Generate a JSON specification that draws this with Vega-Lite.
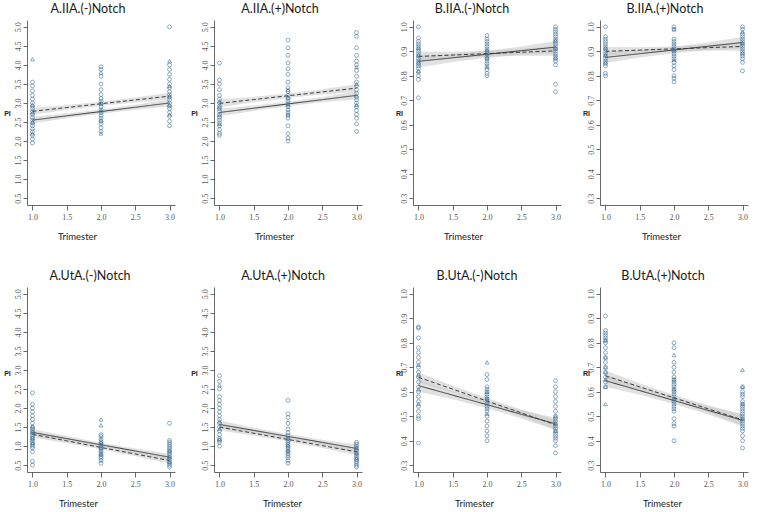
{"$schema":"https://vega.github.io/schema/vega-lite/v6.json",
"padding":{"left":3,"top":2,"right":2,"bottom":0},
"spacing":28,
"config":{"view":{"stroke":null},
"axis":{"domain":true,"domainColor":"#444","domainWidth":0.8,"grid":false,"tickColor":"#444","tickWidth":0.8,"labelColor":"#555","labelFont":"Liberation Sans Narrow","labelFontSize":8,"labelFlush":false,"labelOverlap":false},
"axisX":{"tickSize":5,"labelPadding":3,"titleFont":"Lato","titleFontSize":9.5,"titleColor":"#222","titleFontWeight":"normal","titleAlign":"center","titleBaseline":"middle"},
"axisY":{"tickSize":4,"labelAngle":-90,"labelPadding":1,"titleAngle":0,"titleFont":"Liberation Sans","titleFontWeight":"bold","titleFontSize":7,"titleColor":"#222","titleAlign":"center","titleBaseline":"middle"},
"title":{"font":"Lato","fontSize":12.5,"fontWeight":"normal","color":"#1a1a1a","baseline":"alphabetic","offset":5,"anchor":"middle"}},
"datasets":{
"F":[
{"p":"A1","g":"s","t":1,"v":2.55,"lo":2.46,"hi":2.64},{"p":"A1","g":"s","t":1.5,"v":2.6625,"lo":2.597,"hi":2.728},{"p":"A1","g":"s","t":2,"v":2.775,"lo":2.72,"hi":2.83},{"p":"A1","g":"s","t":2.5,"v":2.8875,"lo":2.822,"hi":2.953},{"p":"A1","g":"s","t":3,"v":3.0,"lo":2.91,"hi":3.09},
{"p":"A1","g":"d","t":1,"v":2.78,"lo":2.69,"hi":2.87},{"p":"A1","g":"d","t":1.5,"v":2.88,"lo":2.815,"hi":2.945},{"p":"A1","g":"d","t":2,"v":2.98,"lo":2.925,"hi":3.035},{"p":"A1","g":"d","t":2.5,"v":3.08,"lo":3.015,"hi":3.145},{"p":"A1","g":"d","t":3,"v":3.18,"lo":3.09,"hi":3.27},
{"p":"A2","g":"s","t":1,"v":2.75,"lo":2.65,"hi":2.85},{"p":"A2","g":"s","t":1.5,"v":2.8625,"lo":2.7925,"hi":2.9325},{"p":"A2","g":"s","t":2,"v":2.975,"lo":2.915,"hi":3.035},{"p":"A2","g":"s","t":2.5,"v":3.0875,"lo":3.0175,"hi":3.1575},{"p":"A2","g":"s","t":3,"v":3.2,"lo":3.1,"hi":3.3},
{"p":"A2","g":"d","t":1,"v":2.99,"lo":2.89,"hi":3.09},{"p":"A2","g":"d","t":1.5,"v":3.09,"lo":3.02,"hi":3.16},{"p":"A2","g":"d","t":2,"v":3.19,"lo":3.13,"hi":3.25},{"p":"A2","g":"d","t":2.5,"v":3.29,"lo":3.22,"hi":3.36},{"p":"A2","g":"d","t":3,"v":3.39,"lo":3.29,"hi":3.49},
{"p":"B1","g":"s","t":1,"v":0.859,"lo":0.834,"hi":0.884},{"p":"B1","g":"s","t":1.5,"v":0.8735,"lo":0.8565,"hi":0.8905},{"p":"B1","g":"s","t":2,"v":0.888,"lo":0.874,"hi":0.902},{"p":"B1","g":"s","t":2.5,"v":0.9025,"lo":0.8855,"hi":0.9195},{"p":"B1","g":"s","t":3,"v":0.917,"lo":0.892,"hi":0.942},
{"p":"B1","g":"d","t":1,"v":0.879,"lo":0.859,"hi":0.899},{"p":"B1","g":"d","t":1.5,"v":0.88475,"lo":0.87075,"hi":0.89875},{"p":"B1","g":"d","t":2,"v":0.8905,"lo":0.8785,"hi":0.9025},{"p":"B1","g":"d","t":2.5,"v":0.89625,"lo":0.88225,"hi":0.91025},{"p":"B1","g":"d","t":3,"v":0.902,"lo":0.882,"hi":0.922},
{"p":"B2","g":"s","t":1,"v":0.875,"lo":0.852,"hi":0.898},{"p":"B2","g":"s","t":1.5,"v":0.89025,"lo":0.87425,"hi":0.90625},{"p":"B2","g":"s","t":2,"v":0.9055,"lo":0.8925,"hi":0.9185},{"p":"B2","g":"s","t":2.5,"v":0.92075,"lo":0.90475,"hi":0.93675},{"p":"B2","g":"s","t":3,"v":0.936,"lo":0.913,"hi":0.959},
{"p":"B2","g":"d","t":1,"v":0.9,"lo":0.882,"hi":0.918},{"p":"B2","g":"d","t":1.5,"v":0.905,"lo":0.893,"hi":0.917},{"p":"B2","g":"d","t":2,"v":0.91,"lo":0.9,"hi":0.92},{"p":"B2","g":"d","t":2.5,"v":0.915,"lo":0.903,"hi":0.927},{"p":"B2","g":"d","t":3,"v":0.92,"lo":0.902,"hi":0.938},
{"p":"C1","g":"s","t":1,"v":1.36,"lo":1.27,"hi":1.45},{"p":"C1","g":"s","t":1.5,"v":1.1975,"lo":1.1325,"hi":1.2625},{"p":"C1","g":"s","t":2,"v":1.035,"lo":0.98,"hi":1.09},{"p":"C1","g":"s","t":2.5,"v":0.8725,"lo":0.8075,"hi":0.9375},{"p":"C1","g":"s","t":3,"v":0.71,"lo":0.62,"hi":0.8},
{"p":"C1","g":"d","t":1,"v":1.31,"lo":1.23,"hi":1.39},{"p":"C1","g":"d","t":1.5,"v":1.1375,"lo":1.0775,"hi":1.1975},{"p":"C1","g":"d","t":2,"v":0.965,"lo":0.915,"hi":1.015},{"p":"C1","g":"d","t":2.5,"v":0.7925,"lo":0.7325,"hi":0.8525},{"p":"C1","g":"d","t":3,"v":0.62,"lo":0.54,"hi":0.7},
{"p":"C2","g":"s","t":1,"v":1.57,"lo":1.47,"hi":1.67},{"p":"C2","g":"s","t":1.5,"v":1.4125,"lo":1.3425,"hi":1.4825},{"p":"C2","g":"s","t":2,"v":1.255,"lo":1.195,"hi":1.315},{"p":"C2","g":"s","t":2.5,"v":1.0975,"lo":1.0275,"hi":1.1675},{"p":"C2","g":"s","t":3,"v":0.94,"lo":0.84,"hi":1.04},
{"p":"C2","g":"d","t":1,"v":1.5,"lo":1.41,"hi":1.59},{"p":"C2","g":"d","t":1.5,"v":1.3375,"lo":1.2725,"hi":1.4025},{"p":"C2","g":"d","t":2,"v":1.175,"lo":1.12,"hi":1.23},{"p":"C2","g":"d","t":2.5,"v":1.0125,"lo":0.9475,"hi":1.0775},{"p":"C2","g":"d","t":3,"v":0.85,"lo":0.76,"hi":0.94},
{"p":"D1","g":"s","t":1,"v":0.625,"lo":0.6,"hi":0.65},{"p":"D1","g":"s","t":1.5,"v":0.586,"lo":0.569,"hi":0.603},{"p":"D1","g":"s","t":2,"v":0.547,"lo":0.533,"hi":0.561},{"p":"D1","g":"s","t":2.5,"v":0.508,"lo":0.491,"hi":0.525},{"p":"D1","g":"s","t":3,"v":0.469,"lo":0.444,"hi":0.494},
{"p":"D1","g":"d","t":1,"v":0.659,"lo":0.639,"hi":0.679},{"p":"D1","g":"d","t":1.5,"v":0.6105,"lo":0.5965,"hi":0.6245},{"p":"D1","g":"d","t":2,"v":0.562,"lo":0.55,"hi":0.574},{"p":"D1","g":"d","t":2.5,"v":0.5135,"lo":0.4995,"hi":0.5275},{"p":"D1","g":"d","t":3,"v":0.465,"lo":0.445,"hi":0.485},
{"p":"D2","g":"s","t":1,"v":0.645,"lo":0.62,"hi":0.67},{"p":"D2","g":"s","t":1.5,"v":0.6045,"lo":0.5875,"hi":0.6215},{"p":"D2","g":"s","t":2,"v":0.564,"lo":0.55,"hi":0.578},{"p":"D2","g":"s","t":2.5,"v":0.5235,"lo":0.5065,"hi":0.5405},{"p":"D2","g":"s","t":3,"v":0.483,"lo":0.458,"hi":0.508},
{"p":"D2","g":"d","t":1,"v":0.665,"lo":0.643,"hi":0.687},{"p":"D2","g":"d","t":1.5,"v":0.62,"lo":0.605,"hi":0.635},{"p":"D2","g":"d","t":2,"v":0.575,"lo":0.563,"hi":0.587},{"p":"D2","g":"d","t":2.5,"v":0.53,"lo":0.515,"hi":0.545},{"p":"D2","g":"d","t":3,"v":0.485,"lo":0.463,"hi":0.507}
],
"A1":[
{"t":1,"g":"c","v":1.95},{"t":1,"g":"c","v":2.05},{"t":1,"g":"c","v":2.15},{"t":1,"g":"c","v":2.25},{"t":1,"g":"c","v":2.32},{"t":1,"g":"c","v":2.4},{"t":1,"g":"c","v":2.47},{"t":1,"g":"c","v":2.55},{"t":1,"g":"c","v":2.62},{"t":1,"g":"c","v":2.7},{"t":1,"g":"c","v":2.78},{"t":1,"g":"c","v":2.85},{"t":1,"g":"c","v":2.92},{"t":1,"g":"c","v":3.0},{"t":1,"g":"c","v":3.1},{"t":1,"g":"c","v":3.2},{"t":1,"g":"c","v":3.32},{"t":1,"g":"c","v":3.45},{"t":1,"g":"c","v":3.55},
{"t":1,"g":"t","v":2.2},{"t":1,"g":"t","v":2.5},{"t":1,"g":"t","v":2.75},{"t":1,"g":"t","v":2.95},{"t":1,"g":"t","v":4.15},
{"t":2,"g":"c","v":2.25},{"t":2,"g":"c","v":2.35},{"t":2,"g":"c","v":2.45},{"t":2,"g":"c","v":2.52},{"t":2,"g":"c","v":2.6},{"t":2,"g":"c","v":2.67},{"t":2,"g":"c","v":2.75},{"t":2,"g":"c","v":2.82},{"t":2,"g":"c","v":2.9},{"t":2,"g":"c","v":2.97},{"t":2,"g":"c","v":3.05},{"t":2,"g":"c","v":3.12},{"t":2,"g":"c","v":3.22},{"t":2,"g":"c","v":3.35},{"t":2,"g":"c","v":3.5},{"t":2,"g":"c","v":3.7},{"t":2,"g":"c","v":3.88},{"t":2,"g":"c","v":3.95},
{"t":2,"g":"t","v":2.2},{"t":2,"g":"t","v":2.55},{"t":2,"g":"t","v":2.8},{"t":2,"g":"t","v":3.0},{"t":2,"g":"t","v":3.8},
{"t":3,"g":"c","v":2.4},{"t":3,"g":"c","v":2.52},{"t":3,"g":"c","v":2.65},{"t":3,"g":"c","v":2.75},{"t":3,"g":"c","v":2.85},{"t":3,"g":"c","v":2.92},{"t":3,"g":"c","v":3.0},{"t":3,"g":"c","v":3.08},{"t":3,"g":"c","v":3.15},{"t":3,"g":"c","v":3.22},{"t":3,"g":"c","v":3.3},{"t":3,"g":"c","v":3.4},{"t":3,"g":"c","v":3.5},{"t":3,"g":"c","v":3.62},{"t":3,"g":"c","v":3.75},{"t":3,"g":"c","v":3.88},{"t":3,"g":"c","v":4.0},{"t":3,"g":"c","v":5.0},
{"t":3,"g":"t","v":2.7},{"t":3,"g":"t","v":2.95},{"t":3,"g":"t","v":3.18},{"t":3,"g":"t","v":3.45},{"t":3,"g":"t","v":4.1}
],
"A2":[
{"t":1,"g":"c","v":2.15},{"t":1,"g":"c","v":2.2},{"t":1,"g":"c","v":2.3},{"t":1,"g":"c","v":2.4},{"t":1,"g":"c","v":2.48},{"t":1,"g":"c","v":2.55},{"t":1,"g":"c","v":2.62},{"t":1,"g":"c","v":2.7},{"t":1,"g":"c","v":2.78},{"t":1,"g":"c","v":2.85},{"t":1,"g":"c","v":2.92},{"t":1,"g":"c","v":3.0},{"t":1,"g":"c","v":3.1},{"t":1,"g":"c","v":3.2},{"t":1,"g":"c","v":3.35},{"t":1,"g":"c","v":3.5},{"t":1,"g":"c","v":3.6},{"t":1,"g":"c","v":4.05},
{"t":1,"g":"t","v":2.45},{"t":1,"g":"t","v":2.68},{"t":1,"g":"t","v":2.9},{"t":1,"g":"t","v":3.05},
{"t":2,"g":"c","v":2.0},{"t":2,"g":"c","v":2.08},{"t":2,"g":"c","v":2.2},{"t":2,"g":"c","v":2.4},{"t":2,"g":"c","v":2.6},{"t":2,"g":"c","v":2.68},{"t":2,"g":"c","v":2.75},{"t":2,"g":"c","v":2.82},{"t":2,"g":"c","v":2.9},{"t":2,"g":"c","v":2.98},{"t":2,"g":"c","v":3.05},{"t":2,"g":"c","v":3.12},{"t":2,"g":"c","v":3.2},{"t":2,"g":"c","v":3.3},{"t":2,"g":"c","v":3.4},{"t":2,"g":"c","v":3.55},{"t":2,"g":"c","v":3.75},{"t":2,"g":"c","v":3.9},{"t":2,"g":"c","v":4.05},{"t":2,"g":"c","v":4.25},{"t":2,"g":"c","v":4.45},{"t":2,"g":"c","v":4.65},
{"t":2,"g":"t","v":2.7},{"t":2,"g":"t","v":2.95},{"t":2,"g":"t","v":3.15},{"t":2,"g":"t","v":3.35},
{"t":3,"g":"c","v":2.25},{"t":3,"g":"c","v":2.45},{"t":3,"g":"c","v":2.6},{"t":3,"g":"c","v":2.7},{"t":3,"g":"c","v":2.8},{"t":3,"g":"c","v":2.9},{"t":3,"g":"c","v":3.0},{"t":3,"g":"c","v":3.08},{"t":3,"g":"c","v":3.15},{"t":3,"g":"c","v":3.25},{"t":3,"g":"c","v":3.35},{"t":3,"g":"c","v":3.45},{"t":3,"g":"c","v":3.55},{"t":3,"g":"c","v":3.7},{"t":3,"g":"c","v":3.85},{"t":3,"g":"c","v":4.0},{"t":3,"g":"c","v":4.1},{"t":3,"g":"c","v":4.25},{"t":3,"g":"c","v":4.45},{"t":3,"g":"c","v":4.75},{"t":3,"g":"c","v":4.85},
{"t":3,"g":"t","v":2.95},{"t":3,"g":"t","v":3.2},{"t":3,"g":"t","v":3.5},{"t":3,"g":"t","v":3.95}
],
"B1":[
{"t":1,"g":"c","v":0.71},{"t":1,"g":"c","v":0.785},{"t":1,"g":"c","v":0.8},{"t":1,"g":"c","v":0.815},{"t":1,"g":"c","v":0.83},{"t":1,"g":"c","v":0.84},{"t":1,"g":"c","v":0.85},{"t":1,"g":"c","v":0.86},{"t":1,"g":"c","v":0.87},{"t":1,"g":"c","v":0.88},{"t":1,"g":"c","v":0.89},{"t":1,"g":"c","v":0.9},{"t":1,"g":"c","v":0.91},{"t":1,"g":"c","v":0.92},{"t":1,"g":"c","v":0.93},{"t":1,"g":"c","v":0.94},{"t":1,"g":"c","v":0.955},{"t":1,"g":"c","v":1.0},
{"t":1,"g":"t","v":0.82},{"t":1,"g":"t","v":0.855},{"t":1,"g":"t","v":0.885},{"t":1,"g":"t","v":0.915},
{"t":2,"g":"c","v":0.8},{"t":2,"g":"c","v":0.81},{"t":2,"g":"c","v":0.825},{"t":2,"g":"c","v":0.84},{"t":2,"g":"c","v":0.85},{"t":2,"g":"c","v":0.86},{"t":2,"g":"c","v":0.87},{"t":2,"g":"c","v":0.88},{"t":2,"g":"c","v":0.89},{"t":2,"g":"c","v":0.9},{"t":2,"g":"c","v":0.91},{"t":2,"g":"c","v":0.92},{"t":2,"g":"c","v":0.93},{"t":2,"g":"c","v":0.94},{"t":2,"g":"c","v":0.95},{"t":2,"g":"c","v":0.965},
{"t":2,"g":"t","v":0.835},{"t":2,"g":"t","v":0.875},{"t":2,"g":"t","v":0.905},
{"t":3,"g":"c","v":0.735},{"t":3,"g":"c","v":0.765},{"t":3,"g":"c","v":0.845},{"t":3,"g":"c","v":0.86},{"t":3,"g":"c","v":0.87},{"t":3,"g":"c","v":0.88},{"t":3,"g":"c","v":0.89},{"t":3,"g":"c","v":0.9},{"t":3,"g":"c","v":0.91},{"t":3,"g":"c","v":0.92},{"t":3,"g":"c","v":0.93},{"t":3,"g":"c","v":0.94},{"t":3,"g":"c","v":0.95},{"t":3,"g":"c","v":0.96},{"t":3,"g":"c","v":0.97},{"t":3,"g":"c","v":0.98},{"t":3,"g":"c","v":0.99},{"t":3,"g":"c","v":1.0},
{"t":3,"g":"t","v":0.875},{"t":3,"g":"t","v":0.915},{"t":3,"g":"t","v":0.945}
],
"B2":[
{"t":1,"g":"c","v":0.8},{"t":1,"g":"c","v":0.81},{"t":1,"g":"c","v":0.84},{"t":1,"g":"c","v":0.85},{"t":1,"g":"c","v":0.86},{"t":1,"g":"c","v":0.87},{"t":1,"g":"c","v":0.88},{"t":1,"g":"c","v":0.89},{"t":1,"g":"c","v":0.9},{"t":1,"g":"c","v":0.91},{"t":1,"g":"c","v":0.92},{"t":1,"g":"c","v":0.93},{"t":1,"g":"c","v":0.94},{"t":1,"g":"c","v":0.95},{"t":1,"g":"c","v":0.96},{"t":1,"g":"c","v":1.0},
{"t":1,"g":"t","v":0.855},{"t":1,"g":"t","v":0.885},{"t":1,"g":"t","v":0.915},
{"t":2,"g":"c","v":0.775},{"t":2,"g":"c","v":0.79},{"t":2,"g":"c","v":0.8},{"t":2,"g":"c","v":0.825},{"t":2,"g":"c","v":0.84},{"t":2,"g":"c","v":0.855},{"t":2,"g":"c","v":0.87},{"t":2,"g":"c","v":0.88},{"t":2,"g":"c","v":0.89},{"t":2,"g":"c","v":0.9},{"t":2,"g":"c","v":0.91},{"t":2,"g":"c","v":0.92},{"t":2,"g":"c","v":0.93},{"t":2,"g":"c","v":0.94},{"t":2,"g":"c","v":0.95},{"t":2,"g":"c","v":0.99},{"t":2,"g":"c","v":1.0},
{"t":2,"g":"t","v":0.865},{"t":2,"g":"t","v":0.905},{"t":2,"g":"t","v":0.99},
{"t":3,"g":"c","v":0.82},{"t":3,"g":"c","v":0.855},{"t":3,"g":"c","v":0.87},{"t":3,"g":"c","v":0.88},{"t":3,"g":"c","v":0.89},{"t":3,"g":"c","v":0.9},{"t":3,"g":"c","v":0.91},{"t":3,"g":"c","v":0.92},{"t":3,"g":"c","v":0.93},{"t":3,"g":"c","v":0.94},{"t":3,"g":"c","v":0.95},{"t":3,"g":"c","v":0.96},{"t":3,"g":"c","v":0.97},{"t":3,"g":"c","v":0.99},{"t":3,"g":"c","v":1.0},
{"t":3,"g":"t","v":0.895},{"t":3,"g":"t","v":0.935},{"t":3,"g":"t","v":0.98}
],
"C1":[
{"t":1,"g":"c","v":0.5},{"t":1,"g":"c","v":0.6},{"t":1,"g":"c","v":0.85},{"t":1,"g":"c","v":0.95},{"t":1,"g":"c","v":1.0},{"t":1,"g":"c","v":1.05},{"t":1,"g":"c","v":1.1},{"t":1,"g":"c","v":1.15},{"t":1,"g":"c","v":1.2},{"t":1,"g":"c","v":1.25},{"t":1,"g":"c","v":1.3},{"t":1,"g":"c","v":1.35},{"t":1,"g":"c","v":1.4},{"t":1,"g":"c","v":1.45},{"t":1,"g":"c","v":1.5},{"t":1,"g":"c","v":1.6},{"t":1,"g":"c","v":1.7},{"t":1,"g":"c","v":1.8},{"t":1,"g":"c","v":1.9},{"t":1,"g":"c","v":2.0},{"t":1,"g":"c","v":2.1},{"t":1,"g":"c","v":2.4},
{"t":1,"g":"t","v":1.08},{"t":1,"g":"t","v":1.22},{"t":1,"g":"t","v":1.38},{"t":1,"g":"t","v":1.52},
{"t":2,"g":"c","v":0.55},{"t":2,"g":"c","v":0.62},{"t":2,"g":"c","v":0.68},{"t":2,"g":"c","v":0.72},{"t":2,"g":"c","v":0.77},{"t":2,"g":"c","v":0.82},{"t":2,"g":"c","v":0.87},{"t":2,"g":"c","v":0.92},{"t":2,"g":"c","v":0.97},{"t":2,"g":"c","v":1.02},{"t":2,"g":"c","v":1.07},{"t":2,"g":"c","v":1.12},{"t":2,"g":"c","v":1.18},{"t":2,"g":"c","v":1.25},{"t":2,"g":"c","v":1.3},
{"t":2,"g":"t","v":0.8},{"t":2,"g":"t","v":0.95},{"t":2,"g":"t","v":1.1},{"t":2,"g":"t","v":1.55},{"t":2,"g":"t","v":1.7},
{"t":3,"g":"c","v":0.45},{"t":3,"g":"c","v":0.5},{"t":3,"g":"c","v":0.55},{"t":3,"g":"c","v":0.6},{"t":3,"g":"c","v":0.65},{"t":3,"g":"c","v":0.7},{"t":3,"g":"c","v":0.75},{"t":3,"g":"c","v":0.8},{"t":3,"g":"c","v":0.85},{"t":3,"g":"c","v":0.9},{"t":3,"g":"c","v":0.95},{"t":3,"g":"c","v":1.0},{"t":3,"g":"c","v":1.05},{"t":3,"g":"c","v":1.1},{"t":3,"g":"c","v":1.15},{"t":3,"g":"c","v":1.6},
{"t":3,"g":"t","v":0.58},{"t":3,"g":"t","v":0.72},{"t":3,"g":"t","v":0.88}
],
"C2":[
{"t":1,"g":"c","v":1.0},{"t":1,"g":"c","v":1.1},{"t":1,"g":"c","v":1.15},{"t":1,"g":"c","v":1.2},{"t":1,"g":"c","v":1.3},{"t":1,"g":"c","v":1.4},{"t":1,"g":"c","v":1.5},{"t":1,"g":"c","v":1.6},{"t":1,"g":"c","v":1.7},{"t":1,"g":"c","v":1.8},{"t":1,"g":"c","v":1.9},{"t":1,"g":"c","v":2.0},{"t":1,"g":"c","v":2.1},{"t":1,"g":"c","v":2.2},{"t":1,"g":"c","v":2.3},{"t":1,"g":"c","v":2.5},{"t":1,"g":"c","v":2.7},{"t":1,"g":"c","v":2.85},
{"t":1,"g":"t","v":1.18},{"t":1,"g":"t","v":1.45},{"t":1,"g":"t","v":1.65},{"t":1,"g":"t","v":2.6},
{"t":2,"g":"c","v":0.55},{"t":2,"g":"c","v":0.62},{"t":2,"g":"c","v":0.7},{"t":2,"g":"c","v":0.75},{"t":2,"g":"c","v":0.8},{"t":2,"g":"c","v":0.85},{"t":2,"g":"c","v":0.9},{"t":2,"g":"c","v":0.95},{"t":2,"g":"c","v":1.0},{"t":2,"g":"c","v":1.05},{"t":2,"g":"c","v":1.1},{"t":2,"g":"c","v":1.15},{"t":2,"g":"c","v":1.2},{"t":2,"g":"c","v":1.28},{"t":2,"g":"c","v":1.35},{"t":2,"g":"c","v":1.45},{"t":2,"g":"c","v":1.6},{"t":2,"g":"c","v":1.75},{"t":2,"g":"c","v":1.85},{"t":2,"g":"c","v":2.2},
{"t":2,"g":"t","v":0.88},{"t":2,"g":"t","v":1.02},{"t":2,"g":"t","v":1.22},
{"t":3,"g":"c","v":0.45},{"t":3,"g":"c","v":0.5},{"t":3,"g":"c","v":0.55},{"t":3,"g":"c","v":0.6},{"t":3,"g":"c","v":0.65},{"t":3,"g":"c","v":0.7},{"t":3,"g":"c","v":0.75},{"t":3,"g":"c","v":0.8},{"t":3,"g":"c","v":0.85},{"t":3,"g":"c","v":0.9},{"t":3,"g":"c","v":0.95},{"t":3,"g":"c","v":1.0},{"t":3,"g":"c","v":1.05},{"t":3,"g":"c","v":1.1},
{"t":3,"g":"t","v":0.68},{"t":3,"g":"t","v":0.82},{"t":3,"g":"t","v":0.95}
],
"D1":[
{"t":1,"g":"c","v":0.39},{"t":1,"g":"c","v":0.49},{"t":1,"g":"c","v":0.5},{"t":1,"g":"c","v":0.52},{"t":1,"g":"c","v":0.54},{"t":1,"g":"c","v":0.56},{"t":1,"g":"c","v":0.58},{"t":1,"g":"c","v":0.6},{"t":1,"g":"c","v":0.62},{"t":1,"g":"c","v":0.64},{"t":1,"g":"c","v":0.66},{"t":1,"g":"c","v":0.68},{"t":1,"g":"c","v":0.7},{"t":1,"g":"c","v":0.72},{"t":1,"g":"c","v":0.74},{"t":1,"g":"c","v":0.76},{"t":1,"g":"c","v":0.78},{"t":1,"g":"c","v":0.82},{"t":1,"g":"c","v":0.86},{"t":1,"g":"c","v":0.865},
{"t":1,"g":"t","v":0.55},{"t":1,"g":"t","v":0.61},{"t":1,"g":"t","v":0.67},{"t":1,"g":"t","v":0.71},
{"t":2,"g":"c","v":0.4},{"t":2,"g":"c","v":0.42},{"t":2,"g":"c","v":0.44},{"t":2,"g":"c","v":0.46},{"t":2,"g":"c","v":0.48},{"t":2,"g":"c","v":0.5},{"t":2,"g":"c","v":0.52},{"t":2,"g":"c","v":0.53},{"t":2,"g":"c","v":0.54},{"t":2,"g":"c","v":0.55},{"t":2,"g":"c","v":0.56},{"t":2,"g":"c","v":0.57},{"t":2,"g":"c","v":0.58},{"t":2,"g":"c","v":0.59},{"t":2,"g":"c","v":0.6},{"t":2,"g":"c","v":0.61},{"t":2,"g":"c","v":0.62},{"t":2,"g":"c","v":0.65},{"t":2,"g":"c","v":0.67},
{"t":2,"g":"t","v":0.51},{"t":2,"g":"t","v":0.575},{"t":2,"g":"t","v":0.6},{"t":2,"g":"t","v":0.72},
{"t":3,"g":"c","v":0.35},{"t":3,"g":"c","v":0.38},{"t":3,"g":"c","v":0.4},{"t":3,"g":"c","v":0.41},{"t":3,"g":"c","v":0.42},{"t":3,"g":"c","v":0.43},{"t":3,"g":"c","v":0.44},{"t":3,"g":"c","v":0.45},{"t":3,"g":"c","v":0.46},{"t":3,"g":"c","v":0.47},{"t":3,"g":"c","v":0.48},{"t":3,"g":"c","v":0.49},{"t":3,"g":"c","v":0.5},{"t":3,"g":"c","v":0.52},{"t":3,"g":"c","v":0.54},{"t":3,"g":"c","v":0.56},{"t":3,"g":"c","v":0.58},{"t":3,"g":"c","v":0.6},{"t":3,"g":"c","v":0.62},{"t":3,"g":"c","v":0.645},
{"t":3,"g":"t","v":0.44},{"t":3,"g":"t","v":0.47},{"t":3,"g":"t","v":0.5}
],
"D2":[
{"t":1,"g":"c","v":0.62},{"t":1,"g":"c","v":0.64},{"t":1,"g":"c","v":0.66},{"t":1,"g":"c","v":0.68},{"t":1,"g":"c","v":0.7},{"t":1,"g":"c","v":0.72},{"t":1,"g":"c","v":0.74},{"t":1,"g":"c","v":0.76},{"t":1,"g":"c","v":0.78},{"t":1,"g":"c","v":0.8},{"t":1,"g":"c","v":0.81},{"t":1,"g":"c","v":0.82},{"t":1,"g":"c","v":0.83},{"t":1,"g":"c","v":0.84},{"t":1,"g":"c","v":0.85},{"t":1,"g":"c","v":0.91},
{"t":1,"g":"t","v":0.55},{"t":1,"g":"t","v":0.62},{"t":1,"g":"t","v":0.65},{"t":1,"g":"t","v":0.68},{"t":1,"g":"t","v":0.7},{"t":1,"g":"t","v":0.74},{"t":1,"g":"t","v":0.81},
{"t":2,"g":"c","v":0.4},{"t":2,"g":"c","v":0.46},{"t":2,"g":"c","v":0.47},{"t":2,"g":"c","v":0.49},{"t":2,"g":"c","v":0.52},{"t":2,"g":"c","v":0.53},{"t":2,"g":"c","v":0.54},{"t":2,"g":"c","v":0.55},{"t":2,"g":"c","v":0.56},{"t":2,"g":"c","v":0.57},{"t":2,"g":"c","v":0.58},{"t":2,"g":"c","v":0.59},{"t":2,"g":"c","v":0.6},{"t":2,"g":"c","v":0.61},{"t":2,"g":"c","v":0.62},{"t":2,"g":"c","v":0.63},{"t":2,"g":"c","v":0.64},{"t":2,"g":"c","v":0.65},{"t":2,"g":"c","v":0.66},{"t":2,"g":"c","v":0.68},{"t":2,"g":"c","v":0.7},{"t":2,"g":"c","v":0.72},{"t":2,"g":"c","v":0.78},{"t":2,"g":"c","v":0.8},
{"t":2,"g":"t","v":0.57},{"t":2,"g":"t","v":0.61},{"t":2,"g":"t","v":0.65},{"t":2,"g":"t","v":0.75},
{"t":3,"g":"c","v":0.37},{"t":3,"g":"c","v":0.4},{"t":3,"g":"c","v":0.42},{"t":3,"g":"c","v":0.44},{"t":3,"g":"c","v":0.45},{"t":3,"g":"c","v":0.46},{"t":3,"g":"c","v":0.47},{"t":3,"g":"c","v":0.48},{"t":3,"g":"c","v":0.49},{"t":3,"g":"c","v":0.5},{"t":3,"g":"c","v":0.51},{"t":3,"g":"c","v":0.52},{"t":3,"g":"c","v":0.53},{"t":3,"g":"c","v":0.54},{"t":3,"g":"c","v":0.55},{"t":3,"g":"c","v":0.56},{"t":3,"g":"c","v":0.58},{"t":3,"g":"c","v":0.59},{"t":3,"g":"c","v":0.6},{"t":3,"g":"c","v":0.62},
{"t":3,"g":"t","v":0.49},{"t":3,"g":"t","v":0.55},{"t":3,"g":"t","v":0.62},{"t":3,"g":"t","v":0.69}
]
},
"vconcat":[
{"spacing":33,"hconcat":[
{"spacing":15,"hconcat":[
{"width":148,"height":185,"title":{"text":"A.IIA.(-)Notch","dx":-13},
"encoding":{"x":{"field":"t","type":"quantitative","scale":{"domain":[0.92,3.08],"nice":false},"axis":{"values":[1,1.5,2,2.5,3],"format":".1f","title":"Trimester","titleX":50,"titleY":31}},"y":{"field":"v","type":"quantitative","scale":{"domain":[0.32,5.18],"nice":false},"axis":{"values":[0.5,1,1.5,2,2.5,3,3.5,4,4.5,5],"format":".1f","title":"PI","titleX":-20,"titleY":93}}},
"layer":[
{"data":{"name":"F"},"transform":[{"filter":"datum.p=='A1'"}],"mark":{"type":"area","color":"#c8c8c8","opacity":0.55},"encoding":{"y":{"field":"lo","type":"quantitative","scale":{"domain":[0.32,5.18],"nice":false}},"y2":{"field":"hi"},"detail":{"field":"g"}}},
{"data":{"name":"F"},"transform":[{"filter":"datum.p=='A1'"}],"mark":{"type":"line","color":"#3a3a3a","strokeWidth":1},"encoding":{"strokeDash":{"field":"g","type":"nominal","scale":{"domain":["s","d"],"range":[[1,0],[4,2.5]]},"legend":null}}},
{"data":{"name":"A1"},"mark":{"type":"point","color":"#3a6d92","opacity":0.65,"size":15,"strokeWidth":0.9},"encoding":{"shape":{"field":"g","type":"nominal","scale":{"domain":["c","t"],"range":["circle","triangle-up"]},"legend":null}}}
]},
{"width":148,"height":185,"title":{"text":"A.IIA.(+)Notch","dx":-8},
"encoding":{"x":{"field":"t","type":"quantitative","scale":{"domain":[0.92,3.08],"nice":false},"axis":{"values":[1,1.5,2,2.5,3],"format":".1f","title":"Trimester","titleX":60,"titleY":31}},"y":{"field":"v","type":"quantitative","scale":{"domain":[0.32,5.18],"nice":false},"axis":{"values":[0.5,1,1.5,2,2.5,3,3.5,4,4.5,5],"format":".1f","title":"PI","titleX":-20,"titleY":93}}},
"layer":[
{"data":{"name":"F"},"transform":[{"filter":"datum.p=='A2'"}],"mark":{"type":"area","color":"#c8c8c8","opacity":0.55},"encoding":{"y":{"field":"lo","type":"quantitative","scale":{"domain":[0.32,5.18],"nice":false}},"y2":{"field":"hi"},"detail":{"field":"g"}}},
{"data":{"name":"F"},"transform":[{"filter":"datum.p=='A2'"}],"mark":{"type":"line","color":"#3a3a3a","strokeWidth":1},"encoding":{"strokeDash":{"field":"g","type":"nominal","scale":{"domain":["s","d"],"range":[[1,0],[4,2.5]]},"legend":null}}},
{"data":{"name":"A2"},"mark":{"type":"point","color":"#3a6d92","opacity":0.65,"size":15,"strokeWidth":0.9},"encoding":{"shape":{"field":"g","type":"nominal","scale":{"domain":["c","t"],"range":["circle","triangle-up"]},"legend":null}}}
]}
]},
{"spacing":21,"hconcat":[
{"width":148,"height":185,"title":{"text":"B.IIA.(-)Notch","dx":-15},
"encoding":{"x":{"field":"t","type":"quantitative","scale":{"domain":[0.92,3.08],"nice":false},"axis":{"values":[1,1.5,2,2.5,3],"format":".1f","title":"Trimester","titleX":50,"titleY":31}},"y":{"field":"v","type":"quantitative","scale":{"domain":[0.272,1.028],"nice":false},"axis":{"values":[0.3,0.4,0.5,0.6,0.7,0.8,0.9,1],"format":".1f","title":"RI","titleX":-14,"titleY":93}}},
"layer":[
{"data":{"name":"F"},"transform":[{"filter":"datum.p=='B1'"}],"mark":{"type":"area","color":"#c8c8c8","opacity":0.55},"encoding":{"y":{"field":"lo","type":"quantitative","scale":{"domain":[0.272,1.028],"nice":false}},"y2":{"field":"hi"},"detail":{"field":"g"}}},
{"data":{"name":"F"},"transform":[{"filter":"datum.p=='B1'"}],"mark":{"type":"line","color":"#3a3a3a","strokeWidth":1},"encoding":{"strokeDash":{"field":"g","type":"nominal","scale":{"domain":["s","d"],"range":[[1,0],[4,2.5]]},"legend":null}}},
{"data":{"name":"B1"},"mark":{"type":"point","color":"#3a6d92","opacity":0.65,"size":15,"strokeWidth":0.9},"encoding":{"shape":{"field":"g","type":"nominal","scale":{"domain":["c","t"],"range":["circle","triangle-up"]},"legend":null}}}
]},
{"width":148,"height":185,"title":{"text":"B.IIA.(+)Notch","dx":-9},
"encoding":{"x":{"field":"t","type":"quantitative","scale":{"domain":[0.92,3.08],"nice":false},"axis":{"values":[1,1.5,2,2.5,3],"format":".1f","title":"Trimester","titleX":61,"titleY":31}},"y":{"field":"v","type":"quantitative","scale":{"domain":[0.272,1.028],"nice":false},"axis":{"values":[0.3,0.4,0.5,0.6,0.7,0.8,0.9,1],"format":".1f","title":"RI","titleX":-14,"titleY":93}}},
"layer":[
{"data":{"name":"F"},"transform":[{"filter":"datum.p=='B2'"}],"mark":{"type":"area","color":"#c8c8c8","opacity":0.55},"encoding":{"y":{"field":"lo","type":"quantitative","scale":{"domain":[0.272,1.028],"nice":false}},"y2":{"field":"hi"},"detail":{"field":"g"}}},
{"data":{"name":"F"},"transform":[{"filter":"datum.p=='B2'"}],"mark":{"type":"line","color":"#3a3a3a","strokeWidth":1},"encoding":{"strokeDash":{"field":"g","type":"nominal","scale":{"domain":["s","d"],"range":[[1,0],[4,2.5]]},"legend":null}}},
{"data":{"name":"B2"},"mark":{"type":"point","color":"#3a6d92","opacity":0.65,"size":15,"strokeWidth":0.9},"encoding":{"shape":{"field":"g","type":"nominal","scale":{"domain":["c","t"],"range":["circle","triangle-up"]},"legend":null}}}
]}
]}
]},
{"spacing":33,"hconcat":[
{"spacing":15,"hconcat":[
{"width":148,"height":185,"title":{"text":"A.UtA.(-)Notch","dx":-11},
"encoding":{"x":{"field":"t","type":"quantitative","scale":{"domain":[0.92,3.08],"nice":false},"axis":{"values":[1,1.5,2,2.5,3],"format":".1f","title":"Trimester","titleX":51,"titleY":31}},"y":{"field":"v","type":"quantitative","scale":{"domain":[0.32,5.18],"nice":false},"axis":{"values":[0.5,1,1.5,2,2.5,3,3.5,4,4.5,5],"format":".1f","title":"PI","titleX":-20,"titleY":86}}},
"layer":[
{"data":{"name":"F"},"transform":[{"filter":"datum.p=='C1'"}],"mark":{"type":"area","color":"#c8c8c8","opacity":0.55},"encoding":{"y":{"field":"lo","type":"quantitative","scale":{"domain":[0.32,5.18],"nice":false}},"y2":{"field":"hi"},"detail":{"field":"g"}}},
{"data":{"name":"F"},"transform":[{"filter":"datum.p=='C1'"}],"mark":{"type":"line","color":"#3a3a3a","strokeWidth":1},"encoding":{"strokeDash":{"field":"g","type":"nominal","scale":{"domain":["s","d"],"range":[[1,0],[4,2.5]]},"legend":null}}},
{"data":{"name":"C1"},"mark":{"type":"point","color":"#3a6d92","opacity":0.65,"size":15,"strokeWidth":0.9},"encoding":{"shape":{"field":"g","type":"nominal","scale":{"domain":["c","t"],"range":["circle","triangle-up"]},"legend":null}}}
]},
{"width":148,"height":185,"title":{"text":"A.UtA.(+)Notch","dx":-5},
"encoding":{"x":{"field":"t","type":"quantitative","scale":{"domain":[0.92,3.08],"nice":false},"axis":{"values":[1,1.5,2,2.5,3],"format":".1f","title":"Trimester","titleX":68,"titleY":31}},"y":{"field":"v","type":"quantitative","scale":{"domain":[0.32,5.18],"nice":false},"axis":{"values":[0.5,1,1.5,2,2.5,3,3.5,4,4.5,5],"format":".1f","title":"PI","titleX":-20,"titleY":86}}},
"layer":[
{"data":{"name":"F"},"transform":[{"filter":"datum.p=='C2'"}],"mark":{"type":"area","color":"#c8c8c8","opacity":0.55},"encoding":{"y":{"field":"lo","type":"quantitative","scale":{"domain":[0.32,5.18],"nice":false}},"y2":{"field":"hi"},"detail":{"field":"g"}}},
{"data":{"name":"F"},"transform":[{"filter":"datum.p=='C2'"}],"mark":{"type":"line","color":"#3a3a3a","strokeWidth":1},"encoding":{"strokeDash":{"field":"g","type":"nominal","scale":{"domain":["s","d"],"range":[[1,0],[4,2.5]]},"legend":null}}},
{"data":{"name":"C2"},"mark":{"type":"point","color":"#3a6d92","opacity":0.65,"size":15,"strokeWidth":0.9},"encoding":{"shape":{"field":"g","type":"nominal","scale":{"domain":["c","t"],"range":["circle","triangle-up"]},"legend":null}}}
]}
]},
{"spacing":21,"hconcat":[
{"width":148,"height":185,"title":{"text":"B.UtA.(-)Notch","dx":-10},
"encoding":{"x":{"field":"t","type":"quantitative","scale":{"domain":[0.92,3.08],"nice":false},"axis":{"values":[1,1.5,2,2.5,3],"format":".1f","title":"Trimester","titleX":61,"titleY":31}},"y":{"field":"v","type":"quantitative","scale":{"domain":[0.272,1.028],"nice":false},"axis":{"values":[0.3,0.4,0.5,0.6,0.7,0.8,0.9,1],"format":".1f","title":"RI","titleX":-14,"titleY":86}}},
"layer":[
{"data":{"name":"F"},"transform":[{"filter":"datum.p=='D1'"}],"mark":{"type":"area","color":"#c8c8c8","opacity":0.55},"encoding":{"y":{"field":"lo","type":"quantitative","scale":{"domain":[0.272,1.028],"nice":false}},"y2":{"field":"hi"},"detail":{"field":"g"}}},
{"data":{"name":"F"},"transform":[{"filter":"datum.p=='D1'"}],"mark":{"type":"line","color":"#3a3a3a","strokeWidth":1},"encoding":{"strokeDash":{"field":"g","type":"nominal","scale":{"domain":["s","d"],"range":[[1,0],[4,2.5]]},"legend":null}}},
{"data":{"name":"D1"},"mark":{"type":"point","color":"#3a6d92","opacity":0.65,"size":15,"strokeWidth":0.9},"encoding":{"shape":{"field":"g","type":"nominal","scale":{"domain":["c","t"],"range":["circle","triangle-up"]},"legend":null}}}
]},
{"width":148,"height":185,"title":{"text":"B.UtA.(+)Notch","dx":-11},
"encoding":{"x":{"field":"t","type":"quantitative","scale":{"domain":[0.92,3.08],"nice":false},"axis":{"values":[1,1.5,2,2.5,3],"format":".1f","title":"Trimester","titleX":62,"titleY":31}},"y":{"field":"v","type":"quantitative","scale":{"domain":[0.272,1.028],"nice":false},"axis":{"values":[0.3,0.4,0.5,0.6,0.7,0.8,0.9,1],"format":".1f","title":"RI","titleX":-14,"titleY":86}}},
"layer":[
{"data":{"name":"F"},"transform":[{"filter":"datum.p=='D2'"}],"mark":{"type":"area","color":"#c8c8c8","opacity":0.55},"encoding":{"y":{"field":"lo","type":"quantitative","scale":{"domain":[0.272,1.028],"nice":false}},"y2":{"field":"hi"},"detail":{"field":"g"}}},
{"data":{"name":"F"},"transform":[{"filter":"datum.p=='D2'"}],"mark":{"type":"line","color":"#3a3a3a","strokeWidth":1},"encoding":{"strokeDash":{"field":"g","type":"nominal","scale":{"domain":["s","d"],"range":[[1,0],[4,2.5]]},"legend":null}}},
{"data":{"name":"D2"},"mark":{"type":"point","color":"#3a6d92","opacity":0.65,"size":15,"strokeWidth":0.9},"encoding":{"shape":{"field":"g","type":"nominal","scale":{"domain":["c","t"],"range":["circle","triangle-up"]},"legend":null}}}
]}
]}
]}
]}
